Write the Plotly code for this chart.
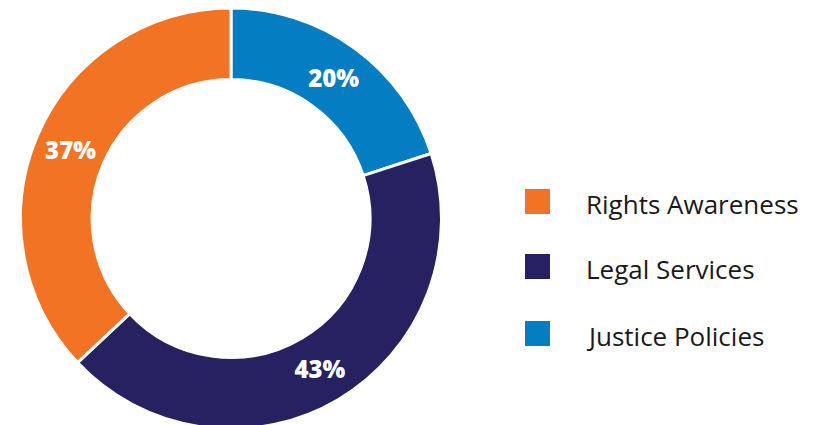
import plotly.graph_objects as go

categories = ["Rights Awareness", "Legal Services", "Justice Policies"]
values = [37, 43, 20]
colors = ["#F37324", "#262262", "#057DC3"]

# slices drawn clockwise from 12 o'clock: Justice, Legal, Rights
order = [2, 1, 0]

fig = go.Figure()
fig.add_trace(go.Pie(
    labels=[categories[i] for i in order],
    values=[values[i] for i in order],
    marker=dict(colors=[colors[i] for i in order], line=dict(color="white", width=3)),
    hole=0.66,
    sort=False,
    direction="clockwise",
    rotation=0,
    texttemplate="%{percent:.0%}",
    textposition="inside",
    insidetextorientation="horizontal",
    textfont=dict(family="Open Sans", size=24, color="white", weight=800),
    domain=dict(x=[0.0147, 0.5332], y=[0.0094, 1.0]),
    showlegend=False,
    hoverinfo="label+percent",
))

# custom legend (large squares, wide spacing), page body has 8px offset
leg_y = [0.5447, 0.3918, 0.2341]
half = 12.5 / 425
for cat, col, yc in zip(categories, colors, leg_y):
    fig.add_shape(type="rect", xref="paper", yref="paper",
                  x0=517 / 814, x1=542 / 814, y0=yc - half, y1=yc + half,
                  fillcolor=col, line=dict(width=0))
    fig.add_annotation(x=576 / 814, y=yc - 0.006, xref="paper", yref="paper",
                       text=cat, showarrow=False, xanchor="left", yanchor="middle",
                       font=dict(family="Open Sans", size=26, color="#1a1a1a"))

fig.update_layout(
    width=814, height=425,
    margin=dict(l=0, r=0, t=0, b=0),
    paper_bgcolor="white",
    plot_bgcolor="white",
)

fig.write_html("out.html")
